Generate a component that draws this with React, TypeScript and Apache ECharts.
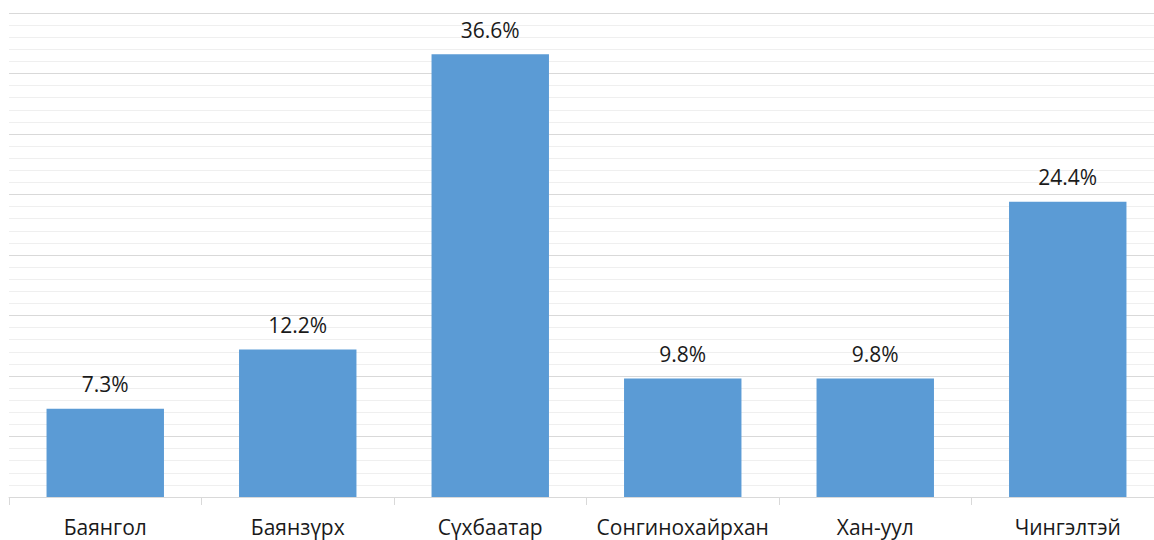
import React, { useEffect, useRef } from "react";
import * as echarts from "echarts";

const categories = ["Баянгол", "Баянзүрх", "Сүхбаатар", "Сонгинохайрхан", "Хан-уул", "Чингэлтэй"];
const values = [7.3, 12.2, 36.6, 9.8, 9.8, 24.4];

export default function App() {
  const ref = useRef<HTMLDivElement>(null);
  useEffect(() => {
    const chart = echarts.init(ref.current!, null, { renderer: "svg" });
    chart.setOption({
      animation: false,
      grid: { left: 9, top: 13, bottom: 43, right: 0 },
      xAxis: {
        type: "category",
        data: categories,
        boundaryGap: true,
        axisLine: { show: true, lineStyle: { color: "#d9d9d9", width: 1 } },
        axisTick: { show: true, interval: 0, length: 8, lineStyle: { color: "#d9d9d9" } },
        axisLabel: { interval: 0, margin: 19, fontSize: 21, color: "#1a1a1a", fontFamily: "Open Sans" },
      },
      yAxis: {
        type: "value",
        min: 0,
        max: 40,
        interval: 5,
        axisLabel: { show: false },
        axisLine: { show: false },
        axisTick: { show: false },
        splitLine: { show: true, lineStyle: { color: "#d9d9d9", width: 1 } },
        minorTick: { show: false, splitNumber: 5 },
        minorSplitLine: { show: true, lineStyle: { color: "#efefef", width: 1 } },
      },
      series: [
        {
          type: "bar",
          data: values,
          barWidth: "61%",
          itemStyle: { color: "#5b9bd5" },
          label: {
            show: true,
            position: "top",
            distance: 14,
            fontSize: 21,
            color: "#1a1a1a",
            fontFamily: "Open Sans",
            formatter: (p: any) => p.value.toFixed(1) + "%",
          },
        },
      ],
    });
    return () => chart.dispose();
  }, []);
  return (
    <div style={{ position: "fixed", left: 0, top: 0, width: 1154, height: 540, overflow: "hidden", background: "#fff" }}>
      <div ref={ref} style={{ width: 1164, height: 540 }} />
    </div>
  );
}
